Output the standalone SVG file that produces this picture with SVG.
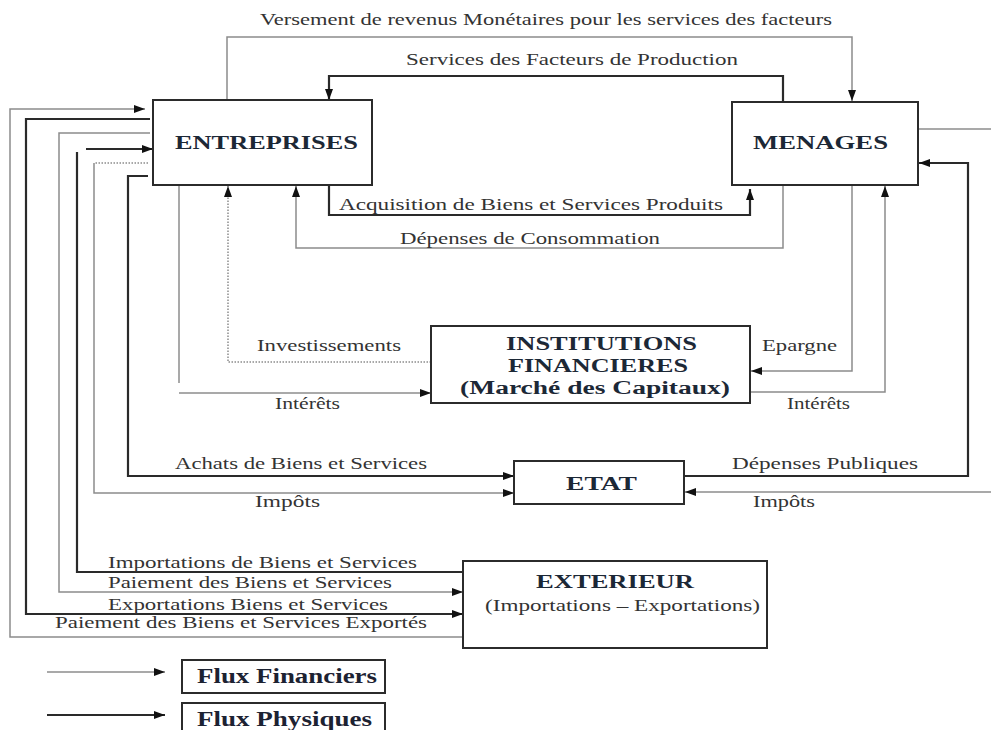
<svg xmlns="http://www.w3.org/2000/svg" width="991" height="730" viewBox="0 0 991 730">
<style>
.box{fill:#fff;stroke:#2b2b2b;stroke-width:2}
.t{font-family:"Liberation Serif","Times New Roman",serif;font-size:16px;fill:#333}
.n{font-family:"Liberation Serif","Times New Roman",serif;font-size:18px;font-weight:bold;fill:#1c2836}
.lg{font-family:"Liberation Serif","Times New Roman",serif;font-size:20px;font-weight:bold;fill:#1c2232}
.fin{fill:none;stroke:#8c8c8c;stroke-width:1.5}
.phy{fill:none;stroke:#2a2a2a;stroke-width:2.2}
.dot{fill:none;stroke:#8c8c8c;stroke-width:1.5;stroke-dasharray:1.5 1.5}
</style>
<defs>
<marker id="a" markerUnits="userSpaceOnUse" markerWidth="11" markerHeight="8" refX="11" refY="4" orient="auto">
<path d="M0,0 L11,4 L0,8 z" fill="#111"/>
</marker>
</defs>
<rect width="991" height="730" fill="#fff"/>
<g id="connectors">
<path class="fin" d="M227,100 V37 H852 V101" marker-end="url(#a)"/>
<path class="phy" d="M783,102 V76 H329 V100" marker-end="url(#a)"/>
<path class="phy" d="M329,185 V215 H750 V189" marker-end="url(#a)"/>
<path class="fin" d="M783,185 V248 H296 V186" marker-end="url(#a)"/>
<path class="dot" d="M431,362 H228 V186" marker-end="url(#a)"/>
<path class="fin" d="M179,185 V383"/>
<path class="fin" d="M179,393 H431" marker-end="url(#a)"/>
<path class="fin" d="M852,185 V371 H751" marker-end="url(#a)"/>
<path class="fin" d="M750,392 H885 V186" marker-end="url(#a)"/>
<path class="phy" d="M148,176 H128 V476 H514" marker-end="url(#a)"/>
<path class="dot" d="M148,163 H94"/>
<path class="fin" d="M94,163 V493 H514" marker-end="url(#a)"/>
<path class="phy" d="M684,476 H968 V163 H919" marker-end="url(#a)"/>
<path class="fin" d="M991,492 H685" marker-end="url(#a)"/>
<path class="fin" d="M918,129 H991"/>
<path class="phy" d="M463,572 H77 V152"/>
<path class="phy" d="M86,149 H153" marker-end="url(#a)"/>
<path class="fin" d="M150,133 H59 V592 H463" marker-end="url(#a)"/>
<path class="phy" d="M150,119 H26 V614 H463" marker-end="url(#a)"/>
<path class="fin" d="M463,637 H10 V109 H145" marker-end="url(#a)"/>
<path class="fin" d="M47,672 H165" marker-end="url(#a)"/>
<path class="phy" d="M47,715 H165" marker-end="url(#a)"/>
</g>
<g id="labels">
<text class="t" x="260" y="25" textLength="572" lengthAdjust="spacingAndGlyphs">Versement de revenus Monétaires pour les services des facteurs</text>
<text class="t" x="406" y="65" textLength="332" lengthAdjust="spacingAndGlyphs">Services des Facteurs de Production</text>
<text class="t" x="339" y="210" textLength="384" lengthAdjust="spacingAndGlyphs">Acquisition de Biens et Services Produits</text>
<text class="t" x="400" y="244" textLength="260" lengthAdjust="spacingAndGlyphs">Dépenses de Consommation</text>
<text class="t" x="257" y="351" textLength="144" lengthAdjust="spacingAndGlyphs">Investissements</text>
<text class="t" x="275" y="409" textLength="65" lengthAdjust="spacingAndGlyphs">Intérêts</text>
<text class="t" x="762" y="351" textLength="75" lengthAdjust="spacingAndGlyphs">Epargne</text>
<text class="t" x="787" y="409" textLength="63" lengthAdjust="spacingAndGlyphs">Intérêts</text>
<text class="t" x="175" y="469" textLength="252" lengthAdjust="spacingAndGlyphs">Achats de Biens et Services</text>
<text class="t" x="255" y="507" textLength="65" lengthAdjust="spacingAndGlyphs">Impôts</text>
<text class="t" x="732" y="469" textLength="186" lengthAdjust="spacingAndGlyphs">Dépenses Publiques</text>
<text class="t" x="753" y="507" textLength="62" lengthAdjust="spacingAndGlyphs">Impôts</text>
<text class="t" x="108" y="568" textLength="309" lengthAdjust="spacingAndGlyphs">Importations de Biens et Services</text>
<text class="t" x="108" y="588" textLength="284" lengthAdjust="spacingAndGlyphs">Paiement des Biens et Services</text>
<text class="t" x="108" y="610" textLength="280" lengthAdjust="spacingAndGlyphs">Exportations Biens et Services</text>
<text class="t" x="55" y="628" textLength="372" lengthAdjust="spacingAndGlyphs">Paiement des Biens et Services Exportés</text>
</g>
<g id="entreprises">
<rect class="box" x="153" y="100" width="219" height="85"/>
<text class="n" x="175" y="149" textLength="183" lengthAdjust="spacingAndGlyphs">ENTREPRISES</text>
</g>
<g id="menages">
<rect class="box" x="732" y="102" width="186" height="83"/>
<text class="n" x="753" y="149" textLength="135" lengthAdjust="spacingAndGlyphs">MENAGES</text>
</g>
<g id="institutions">
<rect class="box" x="431" y="326" width="319" height="77"/>
<text class="n" x="506" y="350" textLength="191" lengthAdjust="spacingAndGlyphs">INSTITUTIONS</text>
<text class="n" x="508" y="372" textLength="180" lengthAdjust="spacingAndGlyphs">FINANCIERES</text>
<text class="n" x="460" y="394" textLength="270" lengthAdjust="spacingAndGlyphs">(Marché des Capitaux)</text>
</g>
<g id="etat">
<rect class="box" x="514" y="461" width="170" height="43"/>
<text class="n" x="566" y="490" textLength="71" lengthAdjust="spacingAndGlyphs">ETAT</text>
</g>
<g id="exterieur">
<rect class="box" x="463" y="561" width="304" height="87"/>
<text class="n" x="536" y="588" textLength="158" lengthAdjust="spacingAndGlyphs">EXTERIEUR</text>
<text class="t" x="485" y="611" textLength="275" lengthAdjust="spacingAndGlyphs">(Importations – Exportations)</text>
</g>
<g id="legend-financiers">
<rect class="box" x="182" y="660" width="203" height="33"/>
<text class="lg" x="197" y="683" textLength="180" lengthAdjust="spacingAndGlyphs">Flux Financiers</text>
</g>
<g id="legend-physiques">
<rect class="box" x="182" y="703" width="203" height="40"/>
<text class="lg" x="197" y="726" textLength="175" lengthAdjust="spacingAndGlyphs">Flux Physiques</text>
</g>
</svg>
